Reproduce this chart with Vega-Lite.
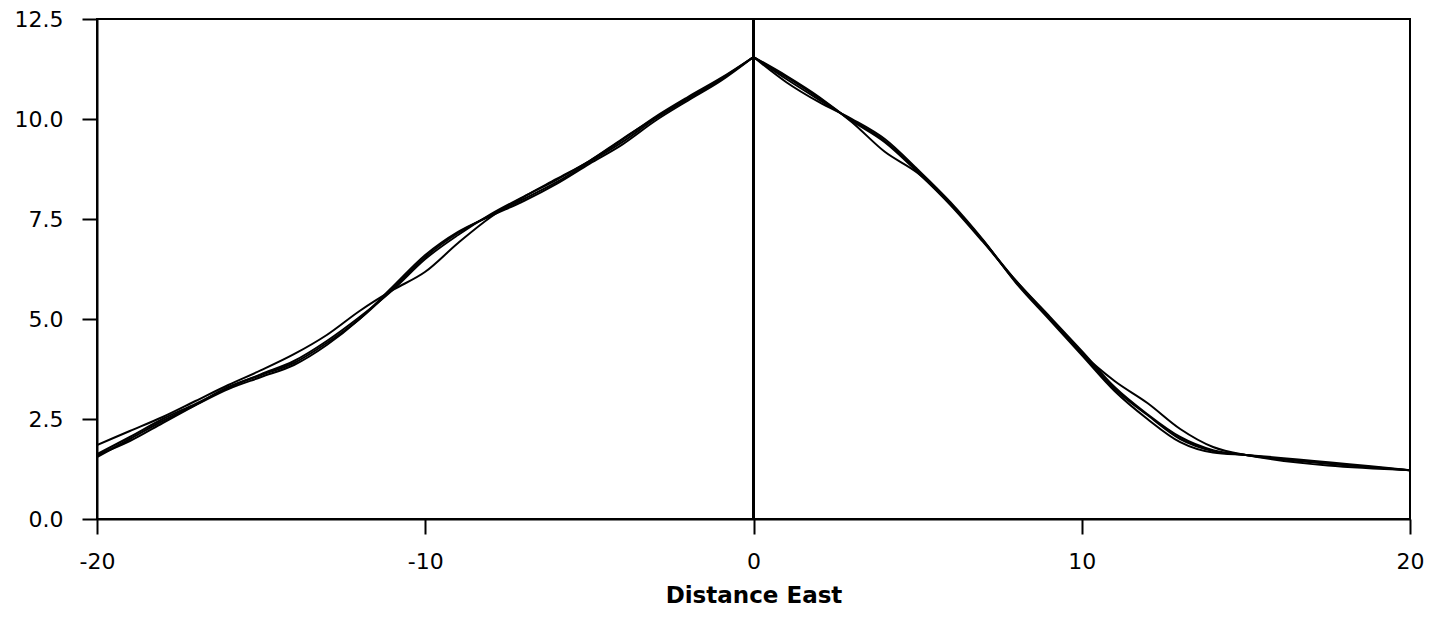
{
  "$schema": "https://vega.github.io/schema/vega-lite/v6.json",
  "width": 1313,
  "height": 500,
  "autosize": {"type": "none"},
  "padding": {"left": 97, "top": 19, "right": 24, "bottom": 100},
  "background": "white",
  "config": {
    "font": "DejaVu Sans",
    "view": {"stroke": "black", "strokeWidth": 2},
    "axis": {
      "domainColor": "black", "domainWidth": 2,
      "tickColor": "black", "tickWidth": 2, "tickSize": 15,
      "labelColor": "black", "labelFontSize": 22, "labelFont": "DejaVu Sans",
      "grid": false
    }
  },
  "datasets": {
    "curves": [
      {"seg":"A1","x":-20,"y":1.85},{"seg":"A1","x":-19,"y":2.2},{"seg":"A1","x":-18,"y":2.55},{"seg":"A1","x":-17,"y":2.95},{"seg":"A1","x":-16,"y":3.35},{"seg":"A1","x":-15,"y":3.72},{"seg":"A1","x":-14,"y":4.12},{"seg":"A1","x":-13,"y":4.6},{"seg":"A1","x":-12,"y":5.2},{"seg":"A1","x":-11,"y":5.72},{"seg":"A1","x":-10,"y":6.18},{"seg":"A1","x":-9,"y":6.9},{"seg":"A1","x":-8,"y":7.55},{"seg":"A1","x":-7,"y":8.05},{"seg":"A1","x":-6,"y":8.5},{"seg":"A1","x":-5,"y":8.95},{"seg":"A1","x":-4,"y":9.5},{"seg":"A1","x":-3,"y":10.02},{"seg":"A1","x":-2,"y":10.52},{"seg":"A1","x":-1,"y":11.0},{"seg":"A1","x":0,"y":11.55},
      {"seg":"A2","x":0,"y":11.55},{"seg":"A2","x":1,"y":11.08},{"seg":"A2","x":2,"y":10.55},{"seg":"A2","x":3,"y":9.92},{"seg":"A2","x":4,"y":9.18},{"seg":"A2","x":5,"y":8.65},{"seg":"A2","x":6,"y":7.87},{"seg":"A2","x":7,"y":6.95},{"seg":"A2","x":8,"y":5.95},{"seg":"A2","x":9,"y":5.05},{"seg":"A2","x":10,"y":4.15},{"seg":"A2","x":11,"y":3.45},{"seg":"A2","x":12,"y":2.9},{"seg":"A2","x":13,"y":2.25},{"seg":"A2","x":14,"y":1.8},{"seg":"A2","x":15,"y":1.6},{"seg":"A2","x":20,"y":1.22},
      {"seg":"B1","x":-20,"y":1.6},{"seg":"B1","x":-19,"y":1.95},{"seg":"B1","x":-18,"y":2.4},{"seg":"B1","x":-17,"y":2.85},{"seg":"B1","x":-16,"y":3.3},{"seg":"B1","x":-15,"y":3.6},{"seg":"B1","x":-14,"y":3.9},{"seg":"B1","x":-13,"y":4.4},{"seg":"B1","x":-12,"y":5.0},{"seg":"B1","x":-11,"y":5.75},{"seg":"B1","x":-10,"y":6.55},{"seg":"B1","x":-9,"y":7.15},{"seg":"B1","x":-8,"y":7.6},{"seg":"B1","x":-7,"y":8.0},{"seg":"B1","x":-6,"y":8.42},{"seg":"B1","x":-5,"y":8.92},{"seg":"B1","x":-4,"y":9.42},{"seg":"B1","x":-3,"y":10.0},{"seg":"B1","x":-2,"y":10.5},{"seg":"B1","x":-1,"y":10.98},{"seg":"B1","x":0,"y":11.55},
      {"seg":"B2","x":0,"y":11.55},{"seg":"B2","x":1,"y":11.0},{"seg":"B2","x":2,"y":10.48},{"seg":"B2","x":3,"y":9.97},{"seg":"B2","x":4,"y":9.45},{"seg":"B2","x":5,"y":8.7},{"seg":"B2","x":6,"y":7.88},{"seg":"B2","x":7,"y":6.95},{"seg":"B2","x":8,"y":5.92},{"seg":"B2","x":9,"y":5.05},{"seg":"B2","x":10,"y":4.15},{"seg":"B2","x":11,"y":3.25},{"seg":"B2","x":12,"y":2.6},{"seg":"B2","x":13,"y":2.0},{"seg":"B2","x":14,"y":1.7},{"seg":"B2","x":15,"y":1.6},{"seg":"B2","x":20,"y":1.22},
      {"seg":"C1","x":-20,"y":1.55},{"seg":"C1","x":-19,"y":2.0},{"seg":"C1","x":-18,"y":2.45},{"seg":"C1","x":-17,"y":2.85},{"seg":"C1","x":-16,"y":3.25},{"seg":"C1","x":-15,"y":3.55},{"seg":"C1","x":-14,"y":3.85},{"seg":"C1","x":-13,"y":4.35},{"seg":"C1","x":-12,"y":5.0},{"seg":"C1","x":-11,"y":5.8},{"seg":"C1","x":-10,"y":6.6},{"seg":"C1","x":-9,"y":7.18},{"seg":"C1","x":-8,"y":7.58},{"seg":"C1","x":-7,"y":7.95},{"seg":"C1","x":-6,"y":8.38},{"seg":"C1","x":-5,"y":8.88},{"seg":"C1","x":-4,"y":9.36},{"seg":"C1","x":-3,"y":9.95},{"seg":"C1","x":-2,"y":10.46},{"seg":"C1","x":-1,"y":10.95},{"seg":"C1","x":0,"y":11.55},
      {"seg":"C2","x":0,"y":11.55},{"seg":"C2","x":1,"y":10.92},{"seg":"C2","x":2,"y":10.42},{"seg":"C2","x":3,"y":10.0},{"seg":"C2","x":4,"y":9.5},{"seg":"C2","x":5,"y":8.74},{"seg":"C2","x":6,"y":7.92},{"seg":"C2","x":7,"y":6.97},{"seg":"C2","x":8,"y":5.9},{"seg":"C2","x":9,"y":5.0},{"seg":"C2","x":10,"y":4.1},{"seg":"C2","x":11,"y":3.2},{"seg":"C2","x":12,"y":2.5},{"seg":"C2","x":13,"y":1.92},{"seg":"C2","x":14,"y":1.66},{"seg":"C2","x":15,"y":1.6},{"seg":"C2","x":20,"y":1.22},
      {"seg":"D1","x":-20,"y":1.62},{"seg":"D1","x":-19,"y":2.05},{"seg":"D1","x":-18,"y":2.5},{"seg":"D1","x":-17,"y":2.88},{"seg":"D1","x":-16,"y":3.28},{"seg":"D1","x":-15,"y":3.62},{"seg":"D1","x":-14,"y":3.95},{"seg":"D1","x":-13,"y":4.45},{"seg":"D1","x":-12,"y":5.05},{"seg":"D1","x":-11,"y":5.72},{"seg":"D1","x":-10,"y":6.5},{"seg":"D1","x":-9,"y":7.1},{"seg":"D1","x":-8,"y":7.62},{"seg":"D1","x":-7,"y":8.06},{"seg":"D1","x":-6,"y":8.48},{"seg":"D1","x":-5,"y":8.95},{"seg":"D1","x":-4,"y":9.48},{"seg":"D1","x":-3,"y":10.05},{"seg":"D1","x":-2,"y":10.55},{"seg":"D1","x":-1,"y":11.02},{"seg":"D1","x":0,"y":11.55},
      {"seg":"D2","x":0,"y":11.55},{"seg":"D2","x":1,"y":11.05},{"seg":"D2","x":2,"y":10.52},{"seg":"D2","x":3,"y":9.95},{"seg":"D2","x":4,"y":9.42},{"seg":"D2","x":5,"y":8.67},{"seg":"D2","x":6,"y":7.85},{"seg":"D2","x":7,"y":6.92},{"seg":"D2","x":8,"y":5.95},{"seg":"D2","x":9,"y":5.08},{"seg":"D2","x":10,"y":4.2},{"seg":"D2","x":11,"y":3.3},{"seg":"D2","x":12,"y":2.62},{"seg":"D2","x":13,"y":2.05},{"seg":"D2","x":14,"y":1.72},{"seg":"D2","x":15,"y":1.6},{"seg":"D2","x":20,"y":1.22}
    ]
  },
  "data": {"name": "curves"},
  "layer": [
    {
      "mark": {"type": "line", "interpolate": "monotone", "strokeWidth": 2, "color": "black", "clip": true},
      "encoding": {
        "x": {
          "field": "x", "type": "quantitative",
          "scale": {"domain": [-20, 20], "nice": false, "zero": false},
          "axis": {
            "values": [-20, -10, 0, 10, 20], "labelFlush": false, "labelPadding": 17,
            "labelExpr": "'' + datum.value",
            "title": "Distance East", "titleFontSize": 23, "titleFontWeight": "bold",
            "titleFont": "DejaVu Sans", "titleColor": "black", "titlePadding": 12
          }
        },
        "y": {
          "field": "y", "type": "quantitative",
          "scale": {"domain": [0, 12.5], "nice": false},
          "axis": {
            "values": [0, 2.5, 5, 7.5, 10, 12.5], "format": ".1f", "title": null,
            "labelPadding": 19, "labelFlush": false
          }
        },
        "detail": {"field": "seg", "type": "nominal"}
      }
    },
    {
      "mark": {"type": "rule", "color": "black", "strokeWidth": 2},
      "encoding": {"x": {"datum": 0}}
    }
  ]
}
